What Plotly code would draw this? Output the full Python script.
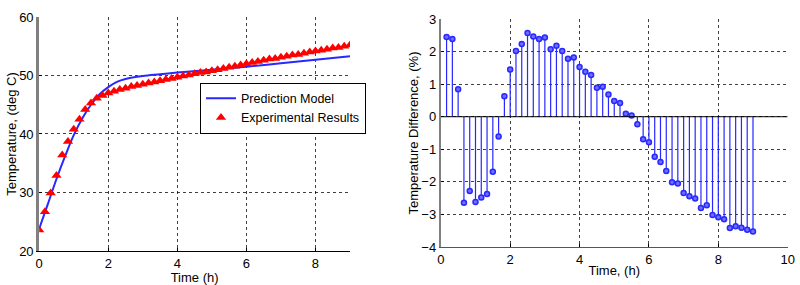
import plotly.graph_objects as go

# ---------------- data ----------------
exp_time = [i / 6 for i in range(55)]
exp_temp = [23.6, 26.7, 29.9, 32.9, 36.4, 38.7, 40.8, 42.5, 44.2, 45.3,
            46.1, 46.6, 47.0, 47.3, 47.6, 47.8, 48.1, 48.3, 48.5, 48.7,
            48.9, 49.1, 49.3, 49.5, 49.7, 49.9, 50.1, 50.3, 50.5, 50.6,
            50.8, 51.0, 51.2, 51.4, 51.6, 51.8, 52.0, 52.2, 52.4, 52.6,
            52.8, 52.9, 53.1, 53.3, 53.5, 53.6, 53.8, 54.0, 54.2, 54.3,
            54.5, 54.7, 54.8, 55.0, 55.2]

pred_time = [0, 0.25, 0.5, 0.75, 1.0, 1.25, 1.5, 1.75, 2.0, 2.25, 2.5, 3.0,
             3.5, 4.0, 5.0, 6.0, 7.0, 8.0, 9.0]
pred_temp = [23.8, 28.0, 32.3, 36.2, 39.8, 42.7, 45.0, 46.8, 48.0, 48.9,
             49.4, 49.9, 50.2, 50.5, 51.0, 51.5, 52.1, 52.7, 53.3]

diff_time = [i / 6 for i in range(1, 55)]
diff_pct = [2.45, 2.39, 0.84, -2.64, -2.28, -2.62, -2.48, -2.37, -1.69, -0.61,
            0.625, 1.45, 2.02, 2.23, 2.57, 2.46, 2.39, 2.43, 2.07, 2.18,
            2.02, 1.78, 1.82, 1.53, 1.38, 1.28, 0.89, 0.92, 0.68, 0.48,
            0.42, 0.09, 0.04, -0.23, -0.69, -0.78, -1.23, -1.39, -1.67, -2.01,
            -2.05, -2.34, -2.44, -2.51, -2.80, -2.72, -3.02, -3.09, -3.15, -3.42,
            -3.36, -3.41, -3.47, -3.52]

left_xticks = [0, 2, 4, 6, 8]
left_yticks = [20, 30, 40, 50, 60]
right_xticks = [0, 2, 4, 6, 8, 10]
right_yticks = [-4, -3, -2, -1, 0, 1, 2, 3]

BLUE = "rgb(40,40,255)"
FONT = "Liberation Sans, Arial, sans-serif"
FS = 13

fig = go.Figure()

fig.add_trace(go.Scatter(x=pred_time, y=pred_temp, mode="lines",
                         line=dict(color=BLUE, width=2, shape="spline"),
                         name="Prediction Model", xaxis="x", yaxis="y"))
fig.add_trace(go.Scatter(x=exp_time, y=exp_temp, mode="markers",
                         marker=dict(symbol="triangle-up", size=9, color="red",
                                     line=dict(width=0)),
                         name="Experimental Results", xaxis="x", yaxis="y"))

# stems
sx, sy = [], []
for t, v in zip(diff_time, diff_pct):
    sx += [t, t, None]
    sy += [0, v, None]
fig.add_trace(go.Scatter(x=sx, y=sy, mode="lines",
                         line=dict(color=BLUE, width=1.2),
                         showlegend=False, xaxis="x2", yaxis="y2"))
fig.add_trace(go.Scatter(x=diff_time, y=diff_pct, mode="markers",
                         marker=dict(symbol="circle", size=5,
                                     color="rgb(110,110,255)",
                                     line=dict(color=BLUE, width=1.5)),
                         showlegend=False, xaxis="x2", yaxis="y2"))

grid = dict(showgrid=True, gridcolor="rgba(0,0,0,0.75)", griddash="dot",
            gridwidth=1, zeroline=False, ticks="inside", ticklen=3,
            tickcolor="black", automargin=False,
            tickfont=dict(size=FS, color="black", family=FONT))

fig.update_layout(
    width=800, height=285,
    margin=dict(l=0, r=0, t=0, b=0),
    paper_bgcolor="white", plot_bgcolor="white",
    font=dict(family=FONT, size=FS, color="black"),
    xaxis=dict(domain=[0.049, 0.4375], range=[0, 9], tickvals=left_xticks,
               showline=True, linecolor="black", linewidth=1,
               title=dict(text="Time (h)", standoff=0, font=dict(size=FS)),
               anchor="y", **grid),
    yaxis=dict(domain=[0.1193, 0.9404], range=[20, 60], tickvals=left_yticks,
               showline=True, linecolor="#808080", linewidth=3,
               title=dict(text="Temperature, (deg C)", standoff=0, font=dict(size=FS)),
               anchor="x", **grid),
    xaxis2=dict(domain=[0.551, 0.9846], range=[0, 10], tickvals=right_xticks,
                showline=True, linecolor="#555", linewidth=1,
                title=dict(text="Time, (h)", standoff=0, font=dict(size=FS)),
                anchor="y2", **grid),
    yaxis2=dict(domain=[0.1333, 0.9333], range=[-4, 3], tickvals=right_yticks,
                showline=True, linecolor="#808080", linewidth=2,
                title=dict(text="Temperature Difference, (%)", standoff=0, font=dict(size=FS)),
                anchor="x2", **grid),
    legend=dict(x=0.25, y=0.71, xanchor="left", yanchor="top",
                bgcolor="white", bordercolor="black", borderwidth=1,
                font=dict(size=12.5), tracegroupgap=0, itemwidth=30),
    showlegend=True,
)

fig.add_shape(type="line", xref="x2", yref="y2", x0=0, x1=10, y0=0, y1=0,
              line=dict(color="black", width=1))

fig.write_html("out.html",
               config={"displayModeBar": False},
               post_script="document.body.style.margin='0';document.body.style.overflow='hidden';")
